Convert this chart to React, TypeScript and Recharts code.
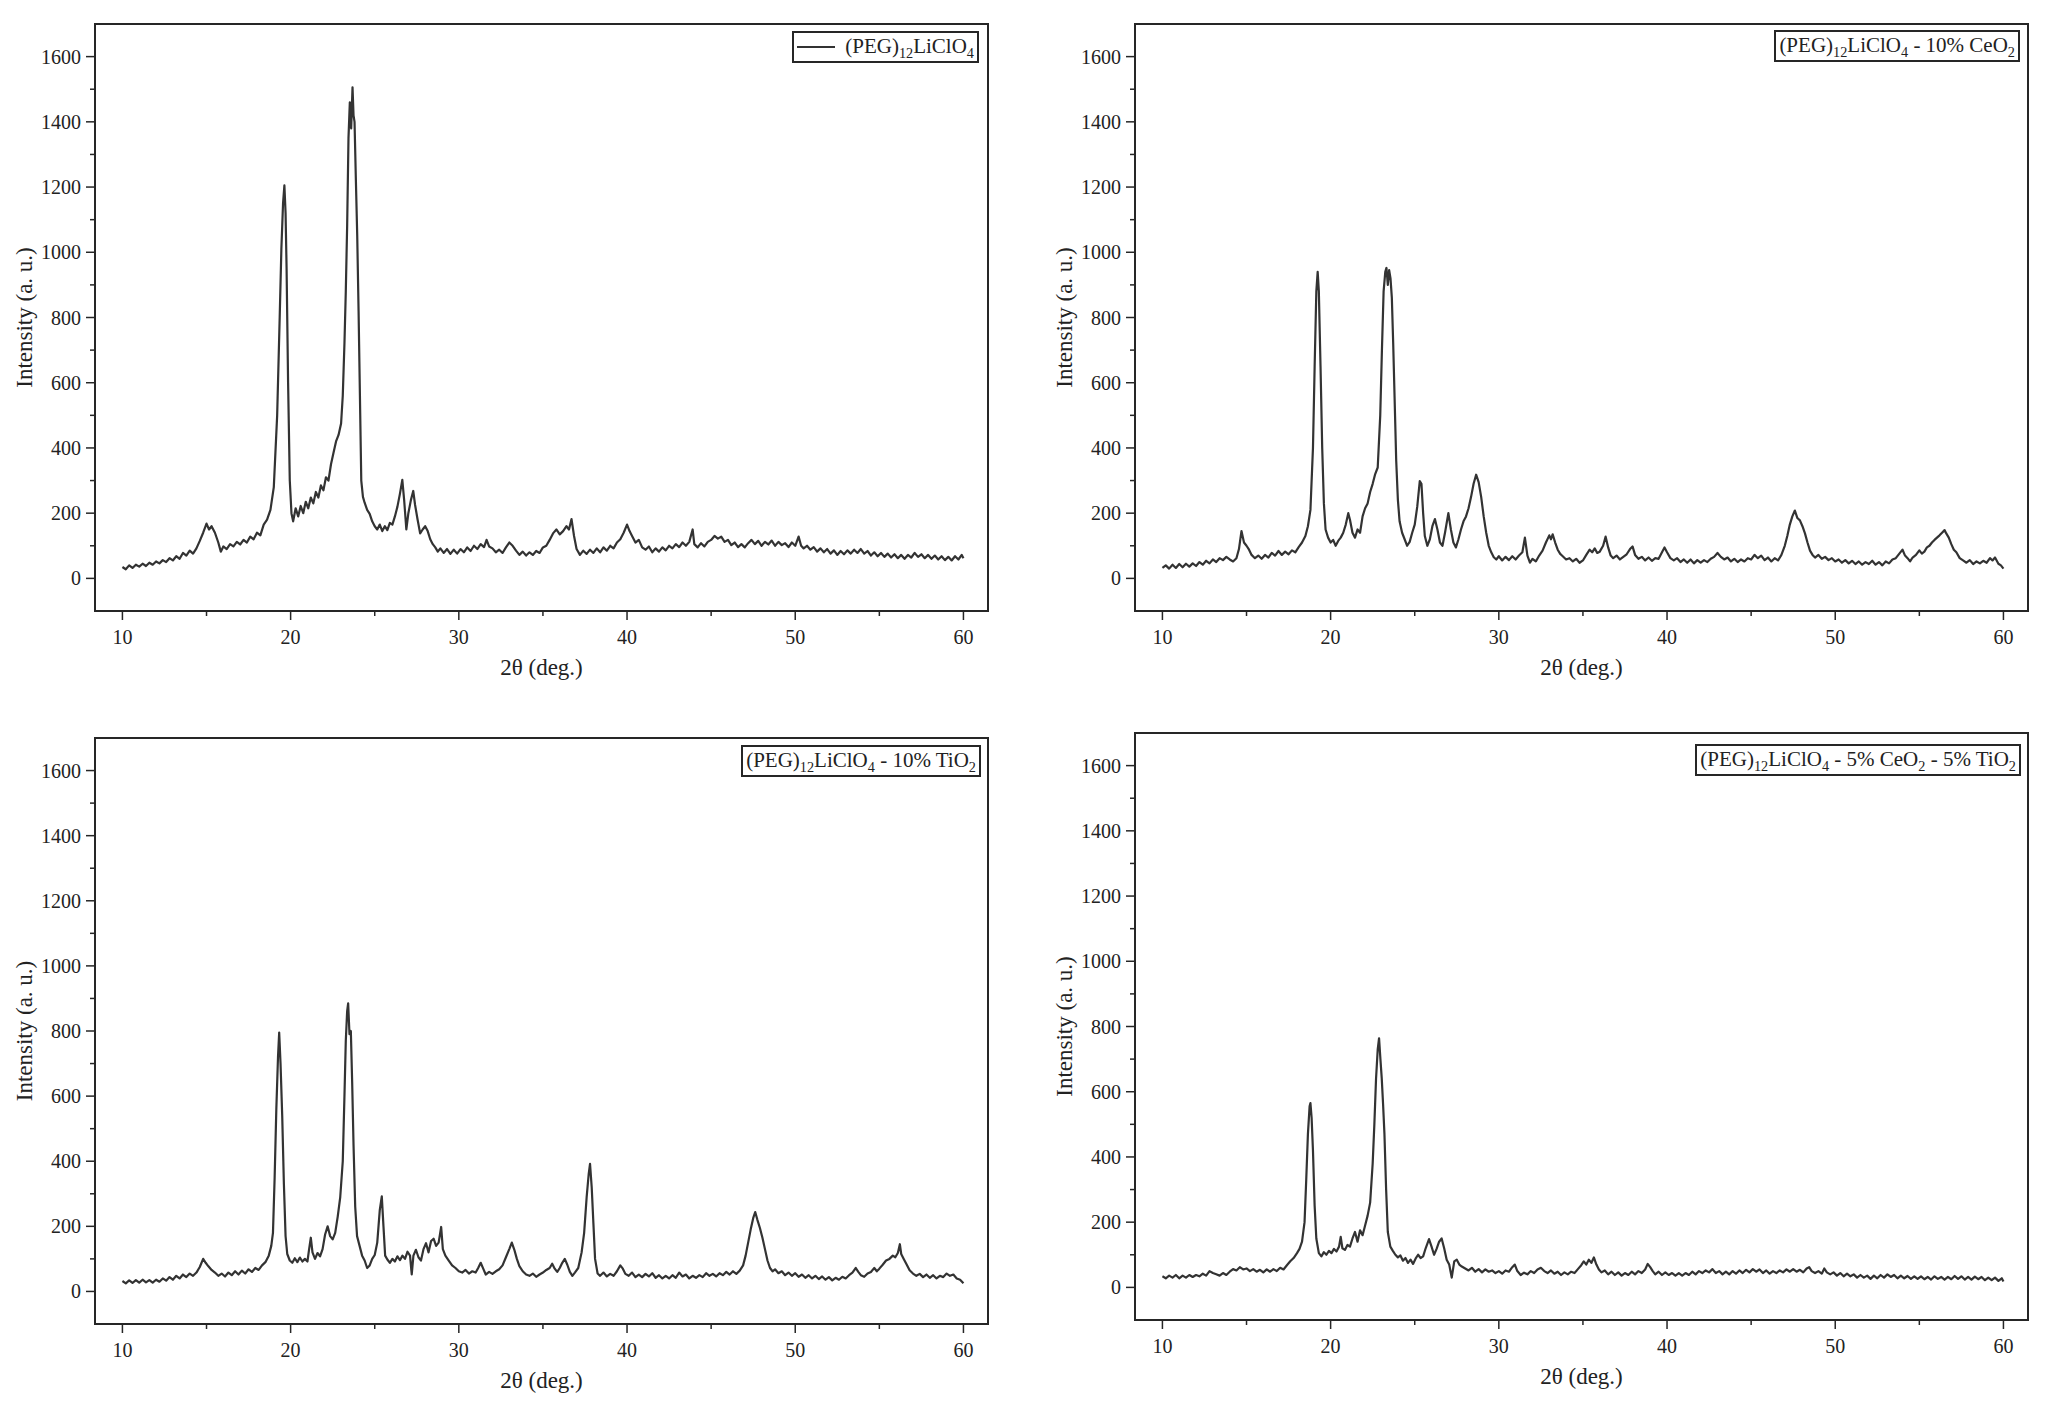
import { LineChart, Line, XAxis, YAxis, ReferenceArea } from "recharts";

const SERIF = '"Liberation Serif", "Times New Roman", serif';
const INK = "#262626";
const TRACE = "#333333";

const X_DOMAIN: [number, number] = [8.37, 61.46];
const Y_DOMAIN: [number, number] = [-100, 1700];
const X_TICKS = [10, 15, 20, 25, 30, 35, 40, 45, 50, 55, 60];
const Y_TICKS = [0, 100, 200, 300, 400, 500, 600, 700, 800, 900, 1000, 1100, 1200, 1300, 1400, 1500, 1600];

// [2θ (deg.), intensity (a. u.)]
const PEG_LICLO4: [number, number][] = [
  [10.0, 35], [10.2, 28], [10.4, 40], [10.6, 32], [10.8, 42], [11.0, 36], [11.2, 45], [11.4, 38], [11.6, 48], [11.8, 42],
  [12.0, 52], [12.2, 46], [12.4, 56], [12.6, 50], [12.8, 62], [13.0, 55], [13.2, 68], [13.4, 60], [13.6, 78], [13.8, 70],
  [14.0, 85], [14.2, 76], [14.4, 92], [14.6, 115], [14.8, 140], [15.0, 168], [15.15, 150], [15.3, 160], [15.5, 140], [15.7, 110],
  [15.85, 82], [16.0, 98], [16.2, 90], [16.4, 105], [16.6, 98], [16.8, 112], [17.0, 104], [17.2, 118], [17.4, 110], [17.6, 128],
  [17.8, 120], [18.0, 140], [18.2, 132], [18.4, 165], [18.6, 180], [18.8, 210], [19.0, 280], [19.2, 500], [19.35, 800], [19.45, 1010],
  [19.55, 1150], [19.63, 1205], [19.7, 1120], [19.76, 950], [19.85, 600], [19.95, 300], [20.05, 200], [20.15, 175], [20.3, 215], [20.45, 190],
  [20.6, 222], [20.75, 200], [20.9, 235], [21.05, 215], [21.2, 248], [21.35, 230], [21.5, 265], [21.65, 248], [21.8, 285], [21.95, 270],
  [22.1, 310], [22.25, 300], [22.4, 350], [22.55, 385], [22.7, 420], [22.85, 440], [23.0, 475], [23.1, 560], [23.2, 720], [23.28, 880],
  [23.36, 1080], [23.44, 1350], [23.52, 1460], [23.6, 1380], [23.68, 1506], [23.74, 1420], [23.8, 1400], [23.88, 1220], [23.96, 1050], [24.04, 820],
  [24.12, 560], [24.2, 300], [24.3, 250], [24.4, 232], [24.55, 210], [24.7, 198], [24.85, 175], [25.0, 160], [25.15, 150], [25.3, 165],
  [25.45, 145], [25.6, 160], [25.75, 148], [25.9, 170], [26.05, 165], [26.2, 190], [26.35, 220], [26.5, 260], [26.64, 302], [26.75, 240],
  [26.88, 150], [27.0, 200], [27.15, 240], [27.29, 268], [27.4, 225], [27.55, 180], [27.7, 138], [27.85, 150], [28.0, 160], [28.15, 145],
  [28.3, 120], [28.45, 105], [28.6, 95], [28.75, 82], [28.9, 92], [29.1, 78], [29.3, 90], [29.5, 75], [29.7, 88], [29.9, 76],
  [30.1, 90], [30.3, 80], [30.5, 95], [30.7, 84], [30.9, 100], [31.1, 90], [31.3, 105], [31.5, 96], [31.65, 118], [31.8, 98],
  [32.0, 92], [32.2, 80], [32.4, 88], [32.6, 78], [32.8, 95], [33.0, 110], [33.2, 100], [33.4, 85], [33.6, 72], [33.8, 82],
  [34.0, 70], [34.2, 80], [34.4, 72], [34.6, 84], [34.8, 78], [35.0, 95], [35.2, 100], [35.4, 118], [35.6, 138], [35.8, 150],
  [36.0, 135], [36.2, 145], [36.4, 160], [36.55, 150], [36.7, 182], [36.85, 130], [37.0, 90], [37.2, 72], [37.4, 85], [37.6, 75],
  [37.8, 88], [38.0, 78], [38.2, 92], [38.4, 80], [38.6, 95], [38.8, 85], [39.0, 100], [39.2, 92], [39.4, 110], [39.6, 120],
  [39.8, 140], [40.0, 165], [40.15, 145], [40.3, 130], [40.5, 110], [40.7, 118], [40.9, 95], [41.1, 88], [41.3, 98], [41.5, 80],
  [41.7, 92], [41.9, 82], [42.1, 95], [42.3, 86], [42.5, 100], [42.7, 92], [42.9, 105], [43.1, 96], [43.3, 110], [43.5, 100],
  [43.7, 112], [43.9, 150], [44.0, 105], [44.2, 95], [44.4, 108], [44.6, 98], [44.8, 112], [45.0, 118], [45.2, 130], [45.4, 122],
  [45.6, 128], [45.8, 112], [46.0, 118], [46.2, 102], [46.4, 110], [46.6, 96], [46.8, 105], [47.0, 95], [47.2, 108], [47.4, 118],
  [47.6, 105], [47.8, 115], [48.0, 100], [48.2, 112], [48.4, 104], [48.6, 116], [48.8, 100], [49.0, 112], [49.2, 102], [49.4, 108],
  [49.6, 96], [49.8, 110], [50.0, 100], [50.2, 128], [50.35, 100], [50.5, 92], [50.7, 100], [50.9, 88], [51.1, 96], [51.3, 82],
  [51.5, 92], [51.7, 80], [51.9, 90], [52.1, 76], [52.3, 86], [52.5, 72], [52.7, 84], [52.9, 74], [53.1, 86], [53.3, 76],
  [53.5, 88], [53.7, 78], [53.9, 90], [54.1, 76], [54.3, 84], [54.5, 70], [54.7, 80], [54.9, 68], [55.1, 78], [55.3, 66],
  [55.5, 76], [55.7, 64], [55.9, 74], [56.1, 62], [56.3, 72], [56.5, 60], [56.7, 72], [56.9, 64], [57.1, 78], [57.3, 66],
  [57.5, 74], [57.7, 62], [57.9, 72], [58.1, 60], [58.3, 70], [58.5, 58], [58.7, 68], [58.9, 56], [59.1, 66], [59.3, 55],
  [59.5, 68], [59.7, 58], [59.9, 72], [60.0, 62],
];

const PEG_CEO2: [number, number][] = [
  [10.0, 32], [10.2, 40], [10.4, 30], [10.6, 42], [10.8, 32], [11.0, 44], [11.2, 34], [11.4, 45], [11.6, 36], [11.8, 46],
  [12.0, 38], [12.2, 50], [12.4, 42], [12.6, 54], [12.8, 46], [13.0, 58], [13.2, 50], [13.4, 62], [13.6, 56], [13.8, 66],
  [14.0, 58], [14.2, 52], [14.4, 62], [14.55, 90], [14.7, 145], [14.85, 110], [15.0, 100], [15.15, 88], [15.3, 72], [15.5, 62],
  [15.7, 70], [15.9, 60], [16.1, 72], [16.3, 64], [16.5, 78], [16.7, 70], [16.9, 84], [17.1, 72], [17.3, 82], [17.5, 74],
  [17.7, 86], [17.9, 80], [18.1, 96], [18.3, 110], [18.5, 130], [18.65, 160], [18.8, 210], [18.95, 400], [19.05, 650], [19.15, 880],
  [19.23, 940], [19.3, 880], [19.4, 650], [19.5, 400], [19.6, 230], [19.7, 150], [19.85, 125], [20.0, 110], [20.15, 118], [20.3, 100],
  [20.45, 115], [20.6, 125], [20.75, 140], [20.9, 165], [21.05, 200], [21.15, 180], [21.3, 140], [21.45, 125], [21.6, 150], [21.75, 140],
  [21.9, 190], [22.05, 215], [22.2, 230], [22.35, 265], [22.5, 290], [22.65, 320], [22.8, 340], [22.95, 500], [23.05, 700], [23.15, 880],
  [23.25, 940], [23.32, 952], [23.4, 900], [23.48, 945], [23.56, 920], [23.64, 860], [23.72, 720], [23.8, 560], [23.9, 360], [24.0, 240],
  [24.1, 175], [24.25, 140], [24.4, 120], [24.55, 100], [24.7, 112], [24.85, 140], [25.0, 165], [25.15, 220], [25.3, 298], [25.4, 290],
  [25.5, 200], [25.6, 130], [25.75, 100], [25.9, 120], [26.05, 160], [26.2, 182], [26.35, 150], [26.5, 110], [26.65, 100], [26.8, 140],
  [27.0, 200], [27.15, 150], [27.3, 110], [27.45, 95], [27.6, 120], [27.75, 150], [27.9, 175], [28.05, 190], [28.2, 215], [28.35, 250],
  [28.5, 290], [28.65, 318], [28.8, 295], [28.95, 250], [29.1, 190], [29.25, 140], [29.4, 100], [29.55, 80], [29.7, 65], [29.85, 58],
  [30.0, 68], [30.2, 55], [30.4, 66], [30.6, 56], [30.8, 68], [31.0, 58], [31.2, 70], [31.4, 80], [31.55, 125], [31.7, 70],
  [31.85, 48], [32.0, 60], [32.2, 52], [32.4, 70], [32.6, 85], [32.8, 110], [33.0, 132], [33.1, 120], [33.2, 135], [33.35, 110],
  [33.5, 88], [33.65, 75], [33.8, 68], [34.0, 58], [34.2, 62], [34.4, 52], [34.6, 60], [34.8, 48], [35.0, 55], [35.2, 72],
  [35.4, 88], [35.55, 80], [35.7, 92], [35.85, 78], [36.0, 82], [36.2, 100], [36.35, 128], [36.5, 95], [36.65, 70], [36.8, 62],
  [37.0, 70], [37.2, 58], [37.4, 66], [37.6, 74], [37.8, 90], [37.95, 98], [38.1, 72], [38.3, 60], [38.5, 66], [38.7, 55],
  [38.9, 64], [39.1, 54], [39.3, 62], [39.5, 60], [39.7, 80], [39.85, 95], [40.0, 80], [40.2, 62], [40.4, 55], [40.6, 62],
  [40.8, 50], [41.0, 58], [41.2, 48], [41.4, 58], [41.6, 46], [41.8, 56], [42.0, 48], [42.2, 56], [42.4, 50], [42.6, 60],
  [42.8, 66], [43.0, 78], [43.2, 66], [43.4, 58], [43.6, 64], [43.8, 52], [44.0, 60], [44.2, 50], [44.4, 58], [44.6, 52],
  [44.8, 62], [45.0, 58], [45.2, 72], [45.4, 62], [45.6, 70], [45.8, 56], [46.0, 64], [46.2, 52], [46.4, 62], [46.6, 55],
  [46.8, 72], [47.0, 100], [47.15, 130], [47.3, 165], [47.45, 190], [47.6, 208], [47.75, 185], [47.9, 178], [48.05, 160], [48.2, 138],
  [48.35, 110], [48.5, 85], [48.65, 72], [48.8, 64], [49.0, 72], [49.2, 60], [49.4, 66], [49.6, 56], [49.8, 62], [50.0, 52],
  [50.2, 58], [50.4, 48], [50.6, 56], [50.8, 46], [51.0, 54], [51.2, 44], [51.4, 52], [51.6, 42], [51.8, 50], [52.0, 44],
  [52.2, 54], [52.4, 42], [52.6, 50], [52.8, 40], [53.0, 52], [53.2, 46], [53.4, 58], [53.6, 62], [53.8, 75], [54.0, 88],
  [54.15, 70], [54.3, 62], [54.45, 52], [54.6, 64], [54.8, 72], [55.0, 86], [55.15, 76], [55.3, 82], [55.45, 95], [55.6, 100],
  [55.75, 110], [55.9, 118], [56.05, 125], [56.2, 132], [56.35, 140], [56.5, 148], [56.6, 138], [56.75, 125], [56.9, 105], [57.05, 88],
  [57.2, 80], [57.4, 62], [57.6, 55], [57.8, 48], [58.0, 56], [58.2, 44], [58.4, 52], [58.6, 46], [58.8, 54], [59.0, 48],
  [59.2, 62], [59.35, 55], [59.5, 64], [59.7, 45], [59.85, 40], [60.0, 30],
];

const PEG_TIO2: [number, number][] = [
  [10.0, 32], [10.2, 25], [10.4, 34], [10.6, 26], [10.8, 35], [11.0, 27], [11.2, 36], [11.4, 28], [11.6, 35], [11.8, 27],
  [12.0, 36], [12.2, 30], [12.4, 40], [12.6, 33], [12.8, 44], [13.0, 36], [13.2, 48], [13.4, 40], [13.6, 52], [13.8, 44],
  [14.0, 55], [14.2, 48], [14.4, 58], [14.6, 75], [14.8, 100], [14.95, 88], [15.1, 78], [15.3, 66], [15.5, 58], [15.7, 48],
  [15.9, 55], [16.1, 46], [16.3, 58], [16.5, 50], [16.7, 62], [16.9, 52], [17.1, 64], [17.3, 55], [17.5, 68], [17.7, 60],
  [17.9, 72], [18.1, 66], [18.3, 80], [18.5, 90], [18.7, 110], [18.85, 140], [18.95, 180], [19.05, 350], [19.15, 560], [19.25, 720],
  [19.32, 795], [19.4, 700], [19.5, 540], [19.6, 330], [19.7, 170], [19.8, 115], [19.95, 95], [20.1, 88], [20.25, 102], [20.4, 90],
  [20.55, 104], [20.7, 92], [20.85, 100], [21.0, 92], [21.1, 130], [21.2, 165], [21.3, 120], [21.45, 100], [21.6, 118], [21.75, 108],
  [21.9, 130], [22.05, 175], [22.2, 200], [22.35, 170], [22.5, 160], [22.65, 180], [22.8, 230], [22.95, 290], [23.1, 400], [23.2, 600],
  [23.28, 770], [23.36, 860], [23.42, 885], [23.5, 790], [23.58, 800], [23.66, 640], [23.74, 450], [23.84, 260], [23.95, 170], [24.1, 140],
  [24.25, 110], [24.4, 95], [24.55, 72], [24.7, 80], [24.85, 100], [25.0, 112], [25.15, 150], [25.3, 250], [25.42, 292], [25.52, 200],
  [25.62, 110], [25.75, 98], [25.9, 88], [26.05, 100], [26.2, 92], [26.35, 108], [26.5, 96], [26.65, 110], [26.8, 100], [26.95, 122],
  [27.1, 110], [27.2, 52], [27.3, 110], [27.45, 128], [27.6, 105], [27.75, 95], [27.9, 130], [28.05, 148], [28.2, 120], [28.35, 155],
  [28.5, 162], [28.65, 140], [28.8, 150], [28.95, 198], [29.05, 130], [29.2, 110], [29.4, 95], [29.6, 80], [29.8, 72], [30.0, 62],
  [30.2, 58], [30.4, 66], [30.6, 55], [30.8, 62], [31.0, 58], [31.15, 72], [31.3, 88], [31.45, 70], [31.6, 52], [31.8, 60],
  [32.0, 54], [32.2, 62], [32.4, 68], [32.6, 80], [32.8, 105], [33.0, 130], [33.15, 150], [33.3, 128], [33.45, 100], [33.6, 78],
  [33.8, 62], [34.0, 52], [34.2, 48], [34.4, 55], [34.6, 45], [34.8, 52], [35.0, 58], [35.2, 66], [35.4, 72], [35.55, 85],
  [35.7, 70], [35.85, 60], [36.0, 72], [36.15, 88], [36.3, 100], [36.45, 82], [36.6, 60], [36.75, 48], [36.9, 58], [37.1, 72],
  [37.3, 120], [37.45, 180], [37.6, 290], [37.72, 360], [37.8, 392], [37.9, 320], [38.0, 210], [38.1, 100], [38.25, 55], [38.4, 48],
  [38.6, 58], [38.8, 46], [39.0, 54], [39.2, 48], [39.4, 62], [39.6, 80], [39.75, 70], [39.9, 54], [40.1, 48], [40.3, 58],
  [40.5, 44], [40.7, 52], [40.9, 44], [41.1, 54], [41.3, 46], [41.5, 56], [41.7, 42], [41.9, 50], [42.1, 40], [42.3, 48],
  [42.5, 40], [42.7, 50], [42.9, 42], [43.1, 58], [43.3, 46], [43.5, 52], [43.7, 40], [43.9, 48], [44.1, 42], [44.3, 50],
  [44.5, 44], [44.7, 56], [44.9, 48], [45.1, 54], [45.3, 46], [45.5, 56], [45.7, 50], [45.9, 60], [46.1, 52], [46.3, 62],
  [46.5, 54], [46.7, 64], [46.9, 80], [47.05, 110], [47.2, 150], [47.35, 190], [47.5, 225], [47.62, 244], [47.75, 220], [47.9, 195],
  [48.05, 165], [48.2, 130], [48.35, 95], [48.5, 72], [48.65, 62], [48.8, 68], [49.0, 56], [49.2, 62], [49.4, 50], [49.6, 58],
  [49.8, 48], [50.0, 56], [50.2, 45], [50.4, 52], [50.6, 42], [50.8, 50], [51.0, 40], [51.2, 48], [51.4, 38], [51.6, 46],
  [51.8, 36], [52.0, 44], [52.2, 34], [52.4, 42], [52.6, 36], [52.8, 45], [53.0, 40], [53.2, 50], [53.4, 58], [53.6, 72],
  [53.75, 60], [53.9, 50], [54.1, 45], [54.3, 55], [54.5, 60], [54.7, 72], [54.85, 62], [55.0, 70], [55.2, 82], [55.4, 95],
  [55.6, 100], [55.8, 110], [55.95, 105], [56.1, 118], [56.22, 145], [56.3, 115], [56.45, 100], [56.6, 85], [56.8, 65], [57.0, 55],
  [57.2, 48], [57.4, 54], [57.6, 44], [57.8, 52], [58.0, 42], [58.2, 50], [58.4, 40], [58.6, 48], [58.8, 44], [59.0, 55],
  [59.2, 48], [59.4, 52], [59.6, 40], [59.8, 36], [60.0, 25],
];

const PEG_CEO2_TIO2: [number, number][] = [
  [10.0, 34], [10.2, 28], [10.4, 36], [10.6, 30], [10.8, 38], [11.0, 28], [11.2, 36], [11.4, 30], [11.6, 38], [11.8, 32],
  [12.0, 38], [12.2, 34], [12.4, 42], [12.6, 36], [12.8, 50], [13.0, 44], [13.2, 40], [13.4, 36], [13.6, 44], [13.8, 38],
  [14.0, 48], [14.2, 56], [14.4, 52], [14.6, 62], [14.8, 55], [15.0, 58], [15.2, 50], [15.4, 56], [15.6, 48], [15.8, 54],
  [16.0, 46], [16.2, 55], [16.4, 48], [16.6, 56], [16.8, 50], [17.0, 60], [17.2, 55], [17.4, 68], [17.6, 80], [17.8, 90],
  [18.0, 105], [18.15, 118], [18.3, 140], [18.45, 200], [18.55, 330], [18.65, 470], [18.75, 555], [18.8, 565], [18.87, 520], [18.95, 420],
  [19.05, 250], [19.15, 150], [19.3, 105], [19.45, 95], [19.6, 108], [19.75, 100], [19.9, 112], [20.05, 105], [20.2, 118], [20.35, 110],
  [20.5, 125], [20.6, 155], [20.7, 120], [20.85, 115], [21.0, 130], [21.15, 125], [21.3, 150], [21.45, 170], [21.6, 140], [21.75, 175],
  [21.9, 160], [22.05, 190], [22.2, 220], [22.35, 260], [22.5, 380], [22.6, 500], [22.7, 640], [22.8, 730], [22.88, 764], [22.96, 700],
  [23.04, 640], [23.12, 560], [23.2, 470], [23.3, 300], [23.4, 170], [23.55, 125], [23.7, 112], [23.85, 100], [24.0, 92], [24.15, 98],
  [24.3, 82], [24.45, 90], [24.6, 75], [24.75, 85], [24.9, 72], [25.05, 88], [25.2, 100], [25.35, 90], [25.5, 95], [25.65, 120],
  [25.85, 148], [26.0, 125], [26.15, 100], [26.3, 118], [26.45, 140], [26.6, 150], [26.75, 120], [26.9, 85], [27.05, 70], [27.2, 30],
  [27.35, 80], [27.5, 85], [27.65, 70], [27.8, 64], [28.0, 58], [28.2, 52], [28.4, 60], [28.6, 48], [28.8, 56], [29.0, 46],
  [29.2, 55], [29.4, 48], [29.6, 52], [29.8, 44], [30.0, 50], [30.2, 42], [30.4, 52], [30.6, 48], [30.8, 62], [30.95, 70],
  [31.1, 50], [31.3, 38], [31.5, 45], [31.7, 40], [31.9, 50], [32.1, 44], [32.3, 55], [32.5, 60], [32.7, 50], [32.9, 44],
  [33.1, 52], [33.3, 42], [33.5, 48], [33.7, 38], [33.9, 46], [34.1, 40], [34.3, 48], [34.5, 44], [34.7, 56], [34.9, 68],
  [35.05, 80], [35.2, 70], [35.35, 85], [35.5, 75], [35.65, 92], [35.8, 70], [35.95, 55], [36.1, 46], [36.3, 52], [36.5, 40],
  [36.7, 48], [36.9, 38], [37.1, 46], [37.3, 36], [37.5, 44], [37.7, 38], [37.9, 48], [38.1, 40], [38.3, 50], [38.5, 44],
  [38.7, 55], [38.85, 72], [39.0, 62], [39.15, 50], [39.3, 40], [39.5, 48], [39.7, 38], [39.9, 46], [40.1, 38], [40.3, 44],
  [40.5, 36], [40.7, 44], [40.9, 36], [41.1, 44], [41.3, 38], [41.5, 48], [41.7, 40], [41.9, 50], [42.1, 44], [42.3, 52],
  [42.5, 46], [42.7, 56], [42.9, 44], [43.1, 50], [43.3, 40], [43.5, 48], [43.7, 40], [43.9, 50], [44.1, 42], [44.3, 52],
  [44.5, 44], [44.7, 54], [44.9, 46], [45.1, 56], [45.3, 48], [45.5, 55], [45.7, 44], [45.9, 52], [46.1, 42], [46.3, 50],
  [46.5, 44], [46.7, 52], [46.9, 46], [47.1, 55], [47.3, 48], [47.5, 56], [47.7, 48], [47.9, 54], [48.1, 46], [48.3, 58],
  [48.45, 62], [48.6, 50], [48.8, 44], [49.0, 50], [49.2, 42], [49.35, 58], [49.5, 46], [49.7, 40], [49.9, 46], [50.1, 36],
  [50.3, 44], [50.5, 34], [50.7, 42], [50.9, 34], [51.1, 40], [51.3, 30], [51.5, 38], [51.7, 30], [51.9, 36], [52.1, 26],
  [52.3, 36], [52.5, 28], [52.7, 38], [52.9, 30], [53.1, 40], [53.3, 32], [53.5, 38], [53.7, 28], [53.9, 36], [54.1, 28],
  [54.3, 35], [54.5, 26], [54.7, 34], [54.9, 26], [55.1, 34], [55.3, 25], [55.5, 32], [55.7, 24], [55.9, 34], [56.1, 26],
  [56.3, 32], [56.5, 24], [56.7, 32], [56.9, 25], [57.1, 35], [57.3, 26], [57.5, 34], [57.7, 24], [57.9, 32], [58.1, 24],
  [58.3, 33], [58.5, 25], [58.7, 32], [58.9, 22], [59.1, 30], [59.3, 22], [59.5, 30], [59.7, 20], [59.9, 28], [60.0, 18],
];

const Sub = ({ children }: { children: string }) => (
  <span style={{ fontSize: "0.68em", position: "relative", top: "0.32em" }}>{children}</span>
);

const XTick = (props: any) => {
  const { x, y, payload } = props;
  const major = payload.value % 10 === 0;
  return (
    <g>
      <line x1={x} x2={x} y1={y} y2={y + (major ? 9 : 5)} stroke={INK} strokeWidth={1.5} />
      {major && (
        <text x={x} y={y + 33} textAnchor="middle" fontSize={20} fontFamily={SERIF} fill="#222">
          {payload.value}
        </text>
      )}
    </g>
  );
};

const YTick = (props: any) => {
  const { x, y, payload } = props;
  const major = payload.value % 200 === 0;
  return (
    <g>
      <line x1={x - (major ? 9 : 5)} x2={x} y1={y} y2={y} stroke={INK} strokeWidth={1.5} />
      {major && (
        <text x={x - 14} y={y + 7} textAnchor="end" fontSize={20} fontFamily={SERIF} fill="#222">
          {payload.value}
        </text>
      )}
    </g>
  );
};

interface PanelProps {
  left: number;
  top: number;
  width: number;
  height: number;
  marginTop: number;
  marginRight: number;
  xAxisHeight: number;
  data: [number, number][];
  legend: React.ReactNode;
  sample?: boolean;
  legendTop: number;
  legendRight: number;
}

const Panel = ({
  left, top, width, height, marginTop, marginRight, xAxisHeight, data, legend, sample, legendTop, legendRight,
}: PanelProps) => {
  const rows = data.map(([t, i]) => ({ t, i }));
  return (
    <div style={{ position: "absolute", left, top, width, height }}>
      <LineChart width={width} height={height} data={rows} margin={{ top: marginTop, right: marginRight, bottom: 0, left: 0 }}>
        <XAxis
          dataKey="t"
          type="number"
          domain={X_DOMAIN}
          allowDataOverflow
          ticks={X_TICKS}
          interval={0}
          tick={<XTick />}
          tickLine={false}
          tickSize={0}
          tickMargin={0}
          height={xAxisHeight}
          axisLine={{ stroke: INK, strokeWidth: 2 }}
          label={{ value: "2θ (deg.)", position: "insideBottom", offset: xAxisHeight - 64, fontSize: 23, fontFamily: SERIF, fill: "#222" }}
        />
        <YAxis
          type="number"
          domain={Y_DOMAIN}
          allowDataOverflow
          ticks={Y_TICKS}
          interval={0}
          tick={<YTick />}
          tickLine={false}
          tickSize={0}
          tickMargin={0}
          width={95}
          axisLine={{ stroke: INK, strokeWidth: 2 }}
          label={{
            value: "Intensity (a. u.)",
            angle: -90,
            position: "insideLeft",
            offset: 24,
            style: { textAnchor: "middle" },
            fontSize: 23,
            fontFamily: SERIF,
            fill: "#222",
          }}
        />
        <ReferenceArea x1={X_DOMAIN[0]} x2={X_DOMAIN[1]} y1={Y_DOMAIN[0]} y2={Y_DOMAIN[1]} fill="none" stroke={INK} strokeWidth={2} />
        <Line type="linear" dataKey="i" stroke={TRACE} strokeWidth={2.2} strokeLinejoin="round" dot={false} isAnimationActive={false} />
      </LineChart>
      <div
        style={{
          position: "absolute",
          top: legendTop,
          right: legendRight,
          border: `2px solid ${INK}`,
          background: "#fff",
          padding: "0 3px",
          display: "flex",
          alignItems: "center",
          fontFamily: SERIF,
          fontSize: 21,
          lineHeight: "28px",
          height: 28,
          color: "#222",
          whiteSpace: "nowrap",
        }}
      >
        {sample && <span style={{ display: "inline-block", width: 38, borderTop: `2px solid ${TRACE}`, marginRight: 10 }} />}
        <span>{legend}</span>
      </div>
    </div>
  );
};

const Base = () => (
  <>
    (PEG)<Sub>12</Sub>LiClO<Sub>4</Sub>
  </>
);

export default function App() {
  return (
    <div style={{ position: "relative", width: 2060, height: 1410, background: "#fff", overflow: "hidden" }}>
      <style>{"body{margin:0}"}</style>
      <Panel
        left={0} top={0} width={1030} height={700} marginTop={24} marginRight={42} xAxisHeight={89}
        data={PEG_LICLO4} sample legendTop={31} legendRight={51}
        legend={<Base />}
      />
      <Panel
        left={1040} top={0} width={1020} height={700} marginTop={24} marginRight={32} xAxisHeight={89}
        data={PEG_CEO2} legendTop={30} legendRight={40}
        legend={<><Base /> - 10% CeO<Sub>2</Sub></>}
      />
      <Panel
        left={0} top={714} width={1030} height={696} marginTop={24} marginRight={42} xAxisHeight={86}
        data={PEG_TIO2} legendTop={31} legendRight={49}
        legend={<><Base /> - 10% TiO<Sub>2</Sub></>}
      />
      <Panel
        left={1040} top={710} width={1020} height={700} marginTop={23} marginRight={32} xAxisHeight={90}
        data={PEG_CEO2_TIO2} legendTop={34} legendRight={39}
        legend={<><Base /> - 5% CeO<Sub>2</Sub> - 5% TiO<Sub>2</Sub></>}
      />
    </div>
  );
}
